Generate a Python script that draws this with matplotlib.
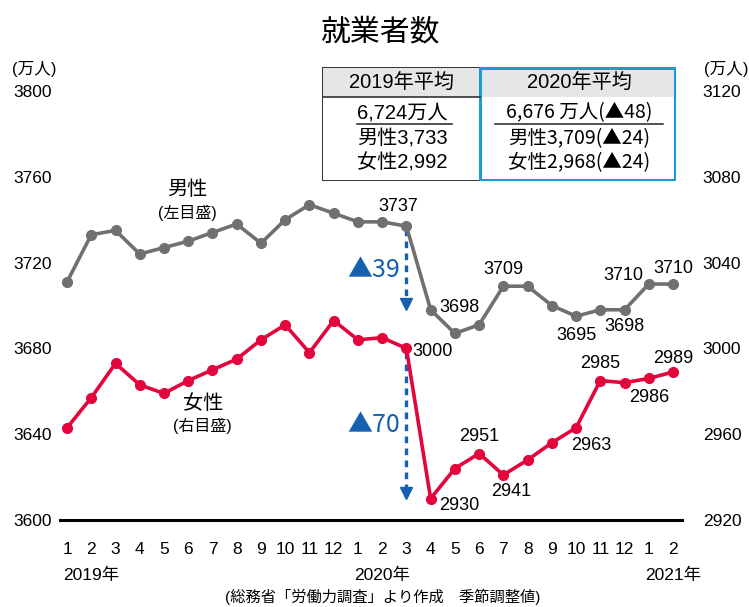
import numpy as np
import matplotlib
matplotlib.use('Agg')
import matplotlib.pyplot as plt
from matplotlib.patches import Rectangle
import matplotlib.transforms as mtransforms

plt.rcParams['font.family'] = ['Liberation Sans', 'Noto Sans CJK JP', 'DejaVu Sans']
CJK_FIRST = ['Noto Sans CJK JP', 'Liberation Sans', 'DejaVu Sans']

# data (万人, seasonally adjusted), Jan 2019 .. Feb 2021
months = ['1', '2', '3', '4', '5', '6', '7', '8', '9', '10', '11', '12',
          '1', '2', '3', '4', '5', '6', '7', '8', '9', '10', '11', '12',
          '1', '2']
years = ['2019年', '2020年', '2021年']
year_start = [0, 12, 24]

men = [3711, 3733, 3735, 3724, 3727, 3730, 3734, 3738, 3729, 3740, 3747, 3743,
       3739, 3739, 3737, 3698, 3687, 3691, 3709, 3709, 3700, 3695, 3698, 3698,
       3710, 3710]
women = [2963, 2977, 2993, 2983, 2979, 2985, 2990, 2995, 3004, 3011, 2998, 3013,
         3004, 3005, 3000, 2930, 2944, 2951, 2941, 2948, 2956, 2963, 2985, 2984,
         2986, 2989]

left_ticks = [3600, 3640, 3680, 3720, 3760, 3800]
right_ticks = [2920, 2960, 3000, 3040, 3080, 3120]

table_head = ['2019年平均', '2020年平均']
table_rows = [['6,724万人', '男性3,733', '女性2,992'],
              ['6,676 万人(▲48)', '男性3,709(▲24)', '女性2,968(▲24)']]

# which points get a value label, with (dx, dy, ha) offsets in points
men_labels = {14: (-6, 14, 'center'), 15: (6, 2, 'left'), 18: (0, 12, 'center'),
              21: (0, -14, 'center'), 23: (0, -12, 'center'),
              24: (-18, 6, 'center'), 25: (0, 11, 'center')}
women_labels = {14: (4, -2, 'left'), 15: (6, -5, 'left'), 17: (0, 12, 'center'),
                18: (6, -12, 'center'), 21: (11, -13, 'center'),
                22: (0, 12, 'center'), 24: (0, -14, 'center'), 25: (0, 10, 'center')}

GRAY = '#707070'
RED = '#e2063d'
BLUE = '#1560b0'

W, H = 749, 607
fig = plt.figure(figsize=(W / 100, H / 100), dpi=100)
ax = fig.add_axes([60 / W, 1 - 520 / H, 622 / W, 429 / H])
ax2 = ax.twinx()

x = np.arange(len(months))
ax.plot(x, men, color=GRAY, lw=2.6, marker='o', ms=7, zorder=3)
ax2.plot(x, women, color=RED, lw=2.6, marker='o', ms=7, zorder=3)

ax.set_xlim(-0.29, 25.37)
ax.set_ylim(3600, 3800)
ax2.set_ylim(2920, 3120)

for a in (ax, ax2):
    for s in a.spines.values():
        s.set_visible(False)
ax.spines['bottom'].set_visible(True)
ax.spines['bottom'].set_linewidth(2.2)
ax.spines['bottom'].set_color('black')

ax.set_yticks(left_ticks)
ax.set_yticklabels([str(t) for t in left_ticks])
ax2.set_yticks(right_ticks)
ax2.set_yticklabels([str(t) for t in right_ticks])
ax.tick_params(axis='y', length=0, pad=6, labelsize=12.5)
ax2.tick_params(axis='y', length=0, pad=15, labelsize=12.5)
ax.set_xticks(x)
ax.set_xticklabels(months)
ax.tick_params(axis='x', length=0, pad=16, labelsize=12.5)

fig.text(12 / W, 1 - 69 / H, '(万人)', ha='left', va='center', fontsize=12)
fig.text(704 / W, 1 - 69 / H, '(万人)', ha='left', va='center', fontsize=12)

# year labels under the month ticks
trans = mtransforms.blended_transform_factory(ax.transData, ax.transAxes)
for i, yl in zip(year_start, years):
    ax.text(i - 0.17, -0.128, yl, transform=trans, ha='left', va='center', fontsize=12.5)

# value labels
for i, (dx, dy, ha) in men_labels.items():
    ax.annotate(str(men[i]), (x[i], men[i]), xytext=(dx, dy), textcoords='offset points',
                ha=ha, va='center', fontsize=13, zorder=5)
for i, (dx, dy, ha) in women_labels.items():
    ax2.annotate(str(women[i]), (x[i], women[i]), xytext=(dx, dy), textcoords='offset points',
                 ha=ha, va='center', fontsize=13, zorder=5)

# series names
ax.text(4.95, 3754, '男性', ha='center', va='center', fontsize=14.5)
ax.text(4.95, 3743, '(左目盛)', ha='center', va='center', fontsize=11.5)
ax.text(5.6, 3654.5, '女性', ha='center', va='center', fontsize=14.5)
ax.text(5.6, 3644, '(右目盛)', ha='center', va='center', fontsize=11.5)

# drop arrows, March -> April 2020
k = 14
for a, ser in ((ax, men), (ax2, women)):
    y0, y1 = ser[k] - 1.5, ser[k + 1] + 3
    a.plot([x[k], x[k]], [y0, y1], color=BLUE, lw=2.4, ls=(0, (2, 1.6)), zorder=2)
    a.plot([x[k]], [y1 - 0.5], marker='v', color=BLUE, ms=8, zorder=2)
ax.text(x[k] - 0.25, 3716.5, '▲%d' % (men[k] - men[k + 1]), color=BLUE,
        ha='right', va='center', fontsize=18, family=CJK_FIRST)
ax2.text(x[k] - 0.25, 2964.3, '▲%d' % (women[k] - women[k + 1]), color=BLUE,
         ha='right', va='center', fontsize=18, family=CJK_FIRST)

# title and source
fig.text(381 / W, 1 - 32 / H, '就業者数', ha='center', va='center', fontsize=21.5)
fig.text(383 / W, 1 - 597 / H, '(総務省「労働力調査」より作成　季節調整値)',
         ha='center', va='center', fontsize=11)

# summary table, drawn in pixel units
tx0, tx1, ty0, ty1 = 322, 676, 67, 181
tab = fig.add_axes([tx0 / W, 1 - ty1 / H, (tx1 - tx0) / W, (ty1 - ty0) / H])
tab.set_xlim(tx0, tx1)
tab.set_ylim(ty1, ty0)
tab.axis('off')
split, head_bot = 480, 97
tab.add_patch(Rectangle((tx0, ty0), tx1 - tx0, head_bot - ty0, fc='#e6e6e6', ec='none'))
tab.add_patch(Rectangle((tx0, ty0), tx1 - tx0, ty1 - ty0, fc='none', ec='#333333', lw=1.4))
tab.plot([tx0, split], [head_bot, head_bot], color='#333333', lw=1.2)
tab.add_patch(Rectangle((split, ty0 + 1), tx1 - split - 1, ty1 - ty0 - 2, fc='none',
                        ec='#1a9ad6', lw=2.2))
col_c = [(tx0 + split) / 2 + 1, (split + tx1) / 2 + 1]
row_y = [113, 139, 163]
under = [(357, 452), (495, 663)]
for c in range(2):
    fam = CJK_FIRST if c == 1 else None
    tab.text(col_c[c], 83, table_head[c], ha='center', va='center', fontsize=14.5)
    for r in range(3):
        tab.text(col_c[c], row_y[r], table_rows[c][r], ha='center', va='center',
                 fontsize=14.5 if c == 0 else 14, family=fam)
    tab.plot(under[c], [124, 124], color='#222222', lw=1.1)

fig.savefig('out.png', dpi=100)
